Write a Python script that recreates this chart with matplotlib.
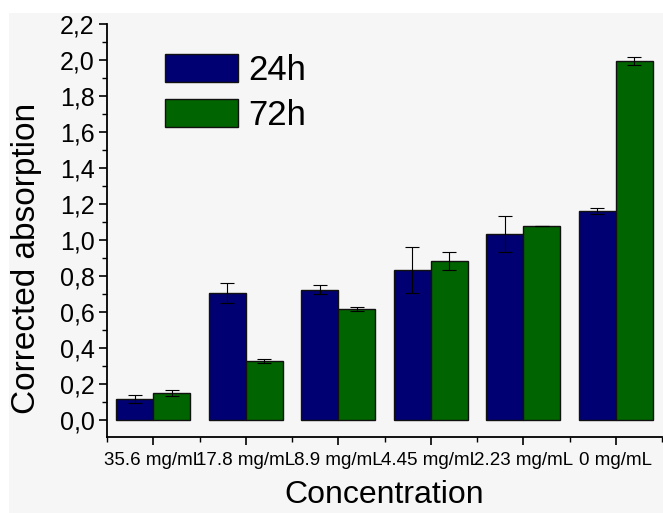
import matplotlib.pyplot as plt
import numpy as np
from matplotlib.patches import Rectangle
from matplotlib.ticker import MultipleLocator, FixedLocator, FuncFormatter

plt.rcParams['font.family'] = ['Liberation Sans', 'DejaVu Sans']

conc = ['35.6 mg/mL', '17.8 mg/mL', '8.9 mg/mL', '4.45 mg/mL', '2.23 mg/mL', '0 mg/mL']
h24 = [0.117, 0.706, 0.722, 0.833, 1.033, 1.16]
h24_err = [0.022, 0.055, 0.025, 0.13, 0.10, 0.015]
h72 = [0.15, 0.328, 0.617, 0.883, 1.078, 1.994]
h72_err = [0.017, 0.01, 0.01, 0.05, 0.0, 0.02]

fig = plt.figure(figsize=(6.63, 5.13), dpi=100, facecolor='white')
# light grey backdrop, white strip on top and left like the scan
fig.add_artist(Rectangle((9/663, 0), 1, 1 - 13/513, transform=fig.transFigure,
                         facecolor='#f6f6f6', edgecolor='none', zorder=-10))
ax = fig.add_axes([107/663, 1-437/513, (662-107)/663, (437-24)/513])
ax.set_facecolor('none')

x = np.arange(1, len(conc) + 1)
w = 0.4
ekw = dict(ecolor='black', elinewidth=0.8, capsize=5, capthick=0.8)
ax.bar(x - w/2, h24, w, yerr=h24_err, color='#000072', edgecolor='#111111',
       linewidth=1, label='24h', error_kw=ekw)
ax.bar(x + w/2, h72, w, yerr=h72_err, color='#006400', edgecolor='#111111',
       linewidth=1, label='72h', error_kw=ekw)

ax.set_xlim(0.5, 6.5)
ax.set_ylim(-0.095, 2.2)
ax.spines['top'].set_visible(False)
ax.spines['right'].set_visible(False)

ax.set_xticks(x)
ax.set_xticklabels(conc, fontsize=13.5)
ax.xaxis.set_minor_locator(FixedLocator(np.arange(0.5, 7, 1)))
ax.yaxis.set_major_locator(MultipleLocator(0.2))
ax.yaxis.set_minor_locator(MultipleLocator(0.1))
ax.yaxis.set_major_formatter(FuncFormatter(lambda v, p: f'{v:.1f}'.replace('.', ',')))
ax.tick_params(axis='y', which='major', labelsize=18, length=6, width=1.2, pad=3)
ax.tick_params(axis='y', which='minor', length=3.5, width=1)
ax.tick_params(axis='x', which='major', length=6, width=1.2, pad=5)
ax.tick_params(axis='x', which='minor', length=3.5, width=1)
for s in ['left', 'bottom']:
    ax.spines[s].set_linewidth(1.3)

ax.set_xlabel('Concentration', fontsize=23, labelpad=8)
ax.set_ylabel('Corrected absorption', fontsize=24)
ax.yaxis.set_label_coords(-0.117, 0.433)

ax.legend(loc='upper left', bbox_to_anchor=(165/663, 1-54/513), bbox_transform=fig.transFigure,
          frameon=False, fontsize=25, handlelength=2.1, handleheight=0.84,
          handletextpad=0.3, labelspacing=0.35, borderaxespad=0, borderpad=0)

fig.savefig('out.png', dpi=100, facecolor=fig.get_facecolor())
